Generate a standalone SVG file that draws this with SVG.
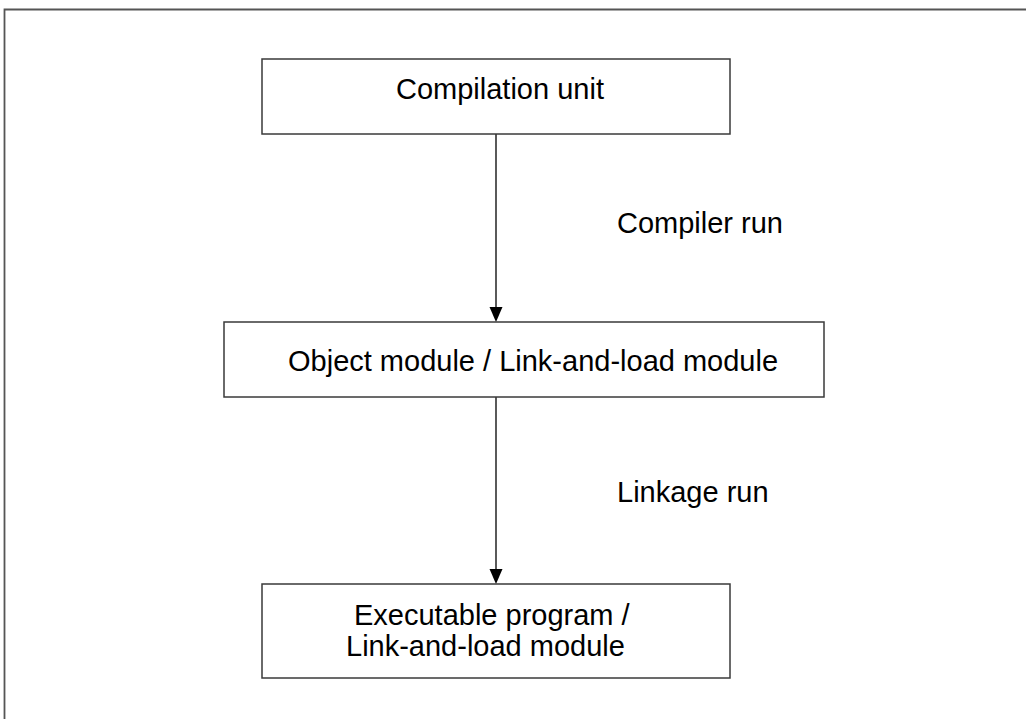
<svg xmlns="http://www.w3.org/2000/svg" width="1026" height="719" viewBox="0 0 1026 719">
<style>
.box{fill:#fff;stroke:#3a3a3a;stroke-width:1.5}
.lbl{font-family:"Liberation Sans",Arial,sans-serif;font-size:29px;fill:#000}
.conn{stroke:#000;stroke-width:1.3;fill:none}
.head{fill:#000}
</style>
<rect width="1026" height="719" fill="#fff"/>
<g id="frame">
<path d="M4.5,719 V9.5 H1026" fill="none" stroke="#555" stroke-width="1.8"/>
</g>
<g id="connectors">
<line class="conn" x1="496" y1="134" x2="496" y2="308"/>
<polygon class="head" points="489.5,307 502.5,307 496,322"/>
<line class="conn" x1="496" y1="397" x2="496" y2="570"/>
<polygon class="head" points="489.5,569 502.5,569 496,584"/>
<text class="lbl" x="617" y="233">Compiler run</text>
<text class="lbl" x="617" y="502">Linkage run</text>
</g>
<g id="node-compilation-unit">
<rect class="box" x="262" y="59" width="468" height="75"/>
<text class="lbl" x="396" y="99">Compilation unit</text>
</g>
<g id="node-object-module">
<rect class="box" x="224" y="322" width="600" height="75"/>
<text class="lbl" x="288" y="371">Object module / Link-and-load module</text>
</g>
<g id="node-executable-program">
<rect class="box" x="262" y="584" width="468" height="94"/>
<text class="lbl" x="354" y="625">Executable program /</text>
<text class="lbl" x="346" y="656">Link-and-load module</text>
</g>
</svg>
